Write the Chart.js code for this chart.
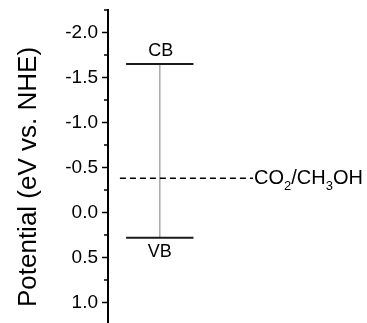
<!DOCTYPE html>
<html>
<head>
<meta charset="utf-8">
<script src="https://cdn.jsdelivr.net/npm/chart.js@4/dist/chart.umd.min.js"></script>
<style>
  html, body { margin: 0; padding: 0; background: #fff; }
  #wrap { width: 367px; height: 323px; position: relative; }
</style>
</head>
<body>
<div id="wrap"><canvas id="bandChart"></canvas></div>
<script>
// band edges (eV vs. NHE)
const bandNames = ['CB', 'VB'];
const bandPotentials = [-1.65, 0.28];

// redox couple
const coupleNames = ['CO2/CH3OH'];
const couplePotentials = [-0.38];

// axis ticks
const majorTicks = [-2.0, -1.5, -1.0, -0.5, 0.0, 0.5, 1.0];
const yTitle = 'Potential (eV vs. NHE)';

// horizontal placement on the hidden x scale (0..100)
const levelFrom = 7, levelTo = 33;
const dashFrom = 4.6, dashTo = 56;
const FONT = 'Liberation Sans, Arial, Helvetica, sans-serif';

const isMajor = v => majorTicks.some(m => Math.abs(m - v) < 1e-6);

const datasets = [];
bandPotentials.forEach((p, i) => {
  datasets.push({
    label: bandNames[i],
    data: [{ x: levelFrom, y: p }, { x: levelTo, y: p }],
    borderColor: '#1a1a1a', borderWidth: 2
  });
});
couplePotentials.forEach((p, i) => {
  datasets.push({
    label: coupleNames[i],
    data: [{ x: dashFrom, y: p }, { x: dashTo, y: p }],
    borderColor: '#000', borderWidth: 1.5, borderDash: [6, 4]
  });
});
// gap line between the two band edges
const mid = (levelFrom + levelTo) / 2;
datasets.push({
  label: 'gap',
  data: [{ x: mid, y: bandPotentials[0] }, { x: mid, y: bandPotentials[1] }],
  borderColor: '#a8a8a8', borderWidth: 1.5
});
datasets.forEach(d => { d.showLine = true; d.pointRadius = 0; d.fill = false; d.clip = false; });

// axis title, minor ticks + text labels
const extras = {
  id: 'extras',
  afterDraw(chart) {
    const ctx = chart.ctx;
    const xs = chart.scales.x, ys = chart.scales.y;
    ctx.save();
    // y title, sits a little below the axis centre
    ctx.save();
    ctx.translate(35.5, 177);
    ctx.rotate(-Math.PI / 2);
    ctx.fillStyle = '#000';
    ctx.font = '26px ' + FONT;
    ctx.textAlign = 'center';
    ctx.textBaseline = 'alphabetic';
    ctx.fillText(yTitle, 0, 0);
    ctx.restore();
    // minor ticks
    ctx.strokeStyle = '#000';
    ctx.lineWidth = 1.5;
    const left = chart.chartArea.left;
    for (let v = -2.25; v <= ys.max + 1e-6; v += 0.25) {
      if (isMajor(v)) continue;
      const py = ys.getPixelForValue(v);
      ctx.beginPath();
      ctx.moveTo(left - 4, py);
      ctx.lineTo(left, py);
      ctx.stroke();
    }
    // band labels
    ctx.fillStyle = '#000';
    ctx.font = '18px ' + FONT;
    ctx.textAlign = 'center';
    const cx = xs.getPixelForValue((levelFrom + levelTo) / 2);
    bandPotentials.forEach((p, i) => {
      const py = ys.getPixelForValue(p);
      if (i === 0) {
        ctx.textBaseline = 'bottom';
        ctx.fillText(bandNames[i], cx + 1, py - 4);
      } else {
        ctx.textBaseline = 'top';
        ctx.fillText(bandNames[i], cx, py + 5);
      }
    });
    // redox couple label, digits as subscripts
    couplePotentials.forEach((p, i) => {
      let x = xs.getPixelForValue(dashTo) + 1;
      const py = ys.getPixelForValue(p);
      ctx.textAlign = 'left';
      ctx.textBaseline = 'middle';
      for (const part of coupleNames[i].split(/(\d)/)) {
        if (!part) continue;
        if (/\d/.test(part)) {
          ctx.font = '13px ' + FONT;
          ctx.fillText(part, x, py + 8);
        } else {
          ctx.font = '20px ' + FONT;
          ctx.fillText(part, x, py);
        }
        x += ctx.measureText(part).width;
      }
    });
    ctx.restore();
  }
};

new Chart(document.getElementById('bandChart'), {
  type: 'scatter',
  data: { datasets },
  options: {
    responsive: true,
    maintainAspectRatio: false,
    animation: false,
    layout: { padding: { top: 10, right: 0, bottom: 0, left: 0 } },
    plugins: { legend: { display: false }, tooltip: { enabled: false } },
    scales: {
      x: { type: 'linear', min: 0, max: 100, display: false },
      y: {
        type: 'linear',
        reverse: true,
        min: -2.25,
        max: 1.228,
        afterFit(scale) {
          scale.width = 108;
          scale.paddingTop = 0;
          scale.paddingBottom = 0;
        },
        border: { display: true, color: '#000', width: 2 },
        grid: {
          drawOnChartArea: false,
          drawTicks: true,
          tickLength: 6,
          tickWidth: 1.5,
          tickColor: c => isMajor(c.tick.value) ? '#000' : 'rgba(0,0,0,0)'
        },
        ticks: {
          stepSize: 0.25,
          maxTicksLimit: 40,
          includeBounds: false,
          autoSkip: false,
          padding: 4,
          color: '#000',
          font: { family: FONT, size: 19 },
          callback: v => isMajor(v) ? v.toFixed(1) : ''
        },
        title: { display: false }
      }
    }
  },
  plugins: [extras]
});
</script>
</body>
</html>
